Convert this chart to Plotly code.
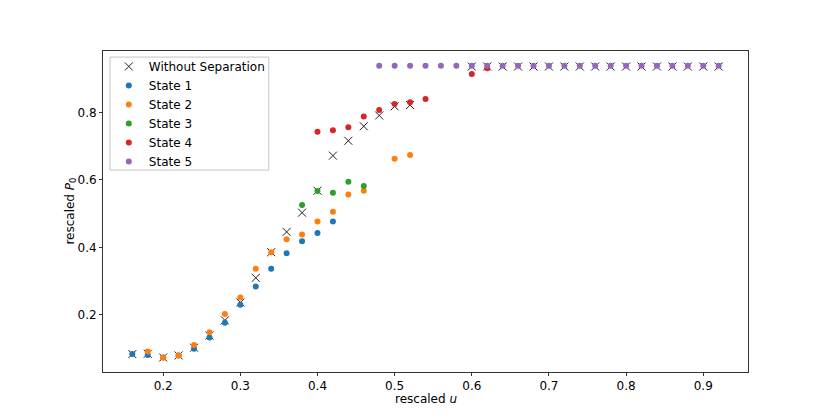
import plotly.graph_objects as go

# значения
u_nosep = [0.16, 0.18, 0.20, 0.22, 0.24, 0.26, 0.28, 0.30, 0.32, 0.34, 0.36, 0.38, 0.40,
           0.42, 0.44, 0.46, 0.48, 0.50, 0.52, 0.60, 0.62, 0.64, 0.66, 0.68, 0.70, 0.72,
           0.74, 0.76, 0.78, 0.80, 0.82, 0.84, 0.86, 0.88, 0.90, 0.92]
p_nosep = [0.084, 0.085, 0.074, 0.080, 0.103, 0.139, 0.184, 0.237, 0.310, 0.386, 0.446, 0.503, 0.568,
           0.672, 0.716, 0.759, 0.791, 0.818, 0.822, 0.936, 0.936, 0.936, 0.936, 0.936, 0.936, 0.936,
           0.936, 0.936, 0.936, 0.936, 0.936, 0.936, 0.936, 0.936, 0.936, 0.936]

u_state1 = [0.16, 0.18, 0.20, 0.22, 0.24, 0.26, 0.28, 0.30, 0.32, 0.34, 0.36, 0.38, 0.40, 0.42]
p_state1 = [0.084, 0.081, 0.074, 0.080, 0.100, 0.133, 0.177, 0.230, 0.284, 0.337, 0.383, 0.418, 0.443, 0.477]

u_state2 = [0.18, 0.20, 0.22, 0.24, 0.26, 0.28, 0.30, 0.32, 0.34, 0.36, 0.38, 0.40, 0.42, 0.44,
            0.46, 0.50, 0.52]
p_state2 = [0.092, 0.074, 0.080, 0.111, 0.149, 0.203, 0.252, 0.337, 0.386, 0.424, 0.438, 0.477, 0.506, 0.557,
            0.568, 0.663, 0.674]

u_state3 = [0.38, 0.40, 0.42, 0.44, 0.46]
p_state3 = [0.526, 0.567, 0.562, 0.595, 0.582]

u_state4 = [0.40, 0.42, 0.44, 0.46, 0.48, 0.50, 0.52, 0.54, 0.60, 0.62]
p_state4 = [0.743, 0.747, 0.756, 0.788, 0.807, 0.825, 0.830, 0.840, 0.914, 0.931]

u_state5 = [0.48, 0.50, 0.52, 0.54, 0.56, 0.58, 0.60, 0.62, 0.64, 0.66, 0.68, 0.70, 0.72, 0.74,
            0.76, 0.78, 0.80, 0.82, 0.84, 0.86, 0.88, 0.90, 0.92]
p_state5 = [0.938] * len(u_state5)

states = [
    ('State 1', u_state1, p_state1, '#1f77b4'),
    ('State 2', u_state2, p_state2, '#ff7f0e'),
    ('State 3', u_state3, p_state3, '#2ca02c'),
    ('State 4', u_state4, p_state4, '#d62728'),
    ('State 5', u_state5, p_state5, '#9467bd'),
]

fig = go.Figure()

fig.add_trace(go.Scatter(x=u_nosep, y=p_nosep,
                         mode='markers',
                         name='Without Separation',
                         marker=dict(symbol='x-thin-open', size=8, color='#222222',
                                     line=dict(color='#222222', width=1)),
                         ))

for name, xs, ys, color in states:
    fig.add_trace(go.Scatter(x=xs, y=ys,
                             mode='markers',
                             name=name,
                             marker=dict(symbol='circle', size=6, color=color),
                             ))

axis_style = dict(showgrid=False, zeroline=False,
                  showline=True, linecolor='#333333', linewidth=1, mirror=True,
                  ticks='outside', ticklen=3, tickcolor='#333333',
                  tickfont=dict(size=12, color='black'))

fig.update_xaxes(range=[0.122, 0.958], tickvals=[0.2, 0.3, 0.4, 0.5, 0.6, 0.7, 0.8, 0.9], **axis_style)
fig.update_yaxes(range=[0.031, 0.982], tickvals=[0.2, 0.4, 0.6, 0.8], **axis_style)

# подписи осей - аннотациями, чтобы стояли как в оригинале
fig.add_annotation(text='rescaled <i>u</i>', xref='paper', yref='paper',
                   x=0.5, y=-0.055, xanchor='center', yanchor='top',
                   showarrow=False, font=dict(size=12, color='black'))
fig.add_annotation(text='rescaled <i>P</i><sub>0</sub>', xref='paper', yref='paper',
                   x=-0.051, y=0.5, xanchor='center', yanchor='middle', textangle=-90,
                   showarrow=False, font=dict(size=12, color='black'))

# рамка легенды
fig.add_shape(type='rect', xref='paper', yref='paper',
              x0=0.0109, x1=0.257, y0=0.629, y1=0.981,
              line=dict(color='#c4c4c4', width=1), layer='above')

# страница открывается с отступом body 8px, поэтому поля сдвинуты
fig.update_layout(
    width=831, height=419,
    margin=dict(l=95, r=91, t=43, b=55),
    plot_bgcolor='white',
    paper_bgcolor='white',
    font=dict(family='DejaVu Sans', size=12, color='black'),
    showlegend=True,
    legend=dict(x=0.009, y=0.997, xanchor='left', yanchor='top',
                borderwidth=0, bgcolor='rgba(0,0,0,0)',
                font=dict(size=12), tracegroupgap=0),
)

fig.write_html('out.html')
